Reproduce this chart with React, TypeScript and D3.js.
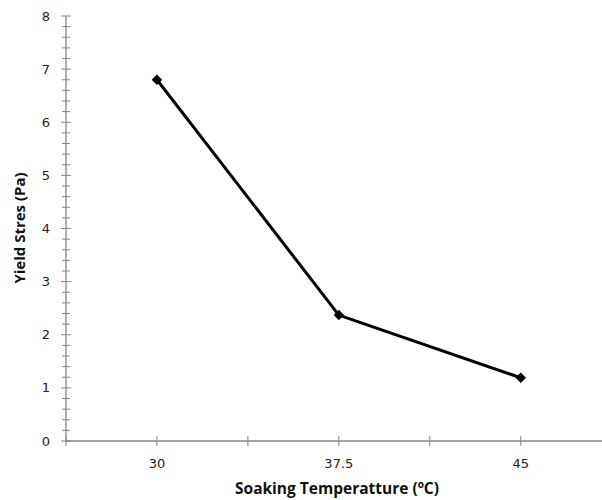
import { useEffect, useRef } from "react";
import * as d3 from "d3";

// data
const temps = [30, 37.5, 45];
const yieldStress = [6.8, 2.37, 1.19];
const xTickValues = [26.25, 30, 33.75, 37.5, 41.25, 45];
const xLabelValues = [30, 37.5, 45];
const yMajorTicks = [0, 1, 2, 3, 4, 5, 6, 7, 8];

const W = 602;
const H = 500;

export default function App() {
  const ref = useRef<SVGSVGElement>(null);

  useEffect(() => {
    if (!ref.current) return;
    const svg = d3.select(ref.current);
    svg.selectAll("*").remove();

    const x = d3.scaleLinear().domain([26.25, 48.35]).range([66, 602]);
    const y = d3.scaleLinear().domain([0, 8]).range([441, 16]);
    const axisColor = "#868686";

    const g = svg.append("g");

    // minor y ticks (every 0.2)
    const minor = d3.range(0, 8.001, 0.2).filter(v => Math.abs(v - Math.round(v)) > 1e-6);
    g.selectAll(".minor")
      .data(minor)
      .enter().append("line")
      .attr("x1", x(26.25) - 4).attr("x2", x(26.25) + 4)
      .attr("y1", d => y(d)).attr("y2", d => y(d))
      .attr("stroke", axisColor).attr("stroke-width", 1);

    // major y ticks
    g.selectAll(".major")
      .data(yMajorTicks)
      .enter().append("line")
      .attr("x1", x(26.25) - 5).attr("x2", x(26.25) + 5)
      .attr("y1", d => y(d)).attr("y2", d => y(d))
      .attr("stroke", axisColor).attr("stroke-width", 1);

    g.selectAll(".ylab")
      .data(yMajorTicks)
      .enter().append("text")
      .attr("x", 50)
      .attr("y", d => y(d))
      .attr("dy", "0.35em")
      .attr("text-anchor", "end")
      .attr("font-family", "DejaVu Sans, sans-serif")
      .attr("font-size", 13)
      .attr("fill", "#222")
      .text(d => d);

    // y axis line
    g.append("line")
      .attr("x1", x(26.25)).attr("x2", x(26.25))
      .attr("y1", y(8)).attr("y2", y(0))
      .attr("stroke", axisColor).attr("stroke-width", 1.3);

    // x axis line
    g.append("line")
      .attr("x1", x(26.25)).attr("x2", W)
      .attr("y1", y(0)).attr("y2", y(0))
      .attr("stroke", axisColor).attr("stroke-width", 1.3);

    g.selectAll(".xtick")
      .data(xTickValues)
      .enter().append("line")
      .attr("x1", d => x(d)).attr("x2", d => x(d))
      .attr("y1", y(0) - 5).attr("y2", y(0) + 5)
      .attr("stroke", axisColor).attr("stroke-width", 1);

    g.selectAll(".xlab")
      .data(xLabelValues)
      .enter().append("text")
      .attr("x", d => x(d))
      .attr("y", 468)
      .attr("text-anchor", "middle")
      .attr("font-family", "DejaVu Sans, sans-serif")
      .attr("font-size", 13)
      .attr("fill", "#222")
      .text(d => d);

    // series line
    const pts = temps.map((t, i) => [t, yieldStress[i]] as [number, number]);
    const line = d3.line<[number, number]>().x(d => x(d[0])).y(d => y(d[1]));
    g.append("path")
      .attr("d", line(pts))
      .attr("fill", "none")
      .attr("stroke", "#000")
      .attr("stroke-width", 3)
      .attr("stroke-linejoin", "round");

    const diamond = d3.symbol().type(d3.symbolDiamond2).size(70);
    g.selectAll(".pt")
      .data(pts)
      .enter().append("path")
      .attr("d", diamond)
      .attr("transform", d => `translate(${x(d[0])},${y(d[1])})`)
      .attr("fill", "#000");

    // axis titles
    const xt = g.append("text")
      .attr("x", 337)
      .attr("y", 494)
      .attr("text-anchor", "middle")
      .attr("font-family", "Open Sans, sans-serif")
      .attr("font-weight", "bold")
      .attr("font-size", 15.5)
      .attr("fill", "#111");
    xt.append("tspan").text("Soaking Temperatture (");
    xt.append("tspan").attr("font-size", 10).attr("dy", -6).text("o");
    xt.append("tspan").attr("dy", 6).text("C)");

    g.append("text")
      .attr("transform", `translate(25,228) rotate(-90)`)
      .attr("text-anchor", "middle")
      .attr("font-family", "Open Sans, sans-serif")
      .attr("font-weight", "bold")
      .attr("font-size", 15)
      .attr("fill", "#111")
      .text("Yield Stres (Pa)");
  }, []);

  return (
    <svg ref={ref} width={W} height={H} style={{ position: "absolute", left: 0, top: 0 }} />
  );
}
